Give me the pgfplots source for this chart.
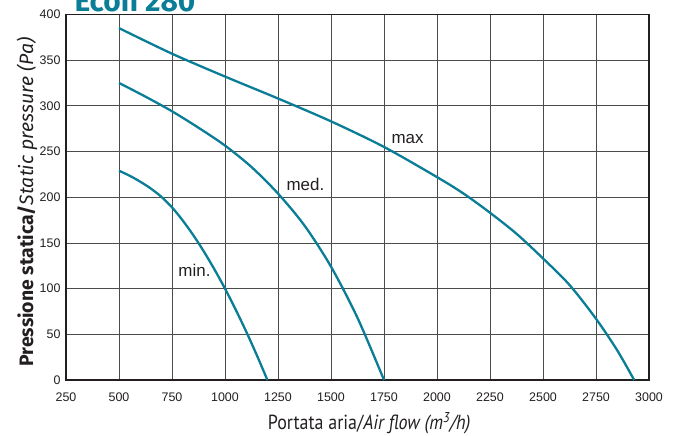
\documentclass[border=0pt]{standalone}
\usepackage{fontspec}
\setmainfont{Liberation Sans}
\newfontfamily\labfont[FakeStretch=0.88]{PT Sans}
\newfontfamily\titfont{Fira Sans}
\usepackage{pgfplots}
\pgfplotsset{compat=1.18}
\definecolor{curve}{HTML}{0A7D97}
\definecolor{ink}{HTML}{231F20}
\begin{document}
\begin{tikzpicture}
\begin{axis}[name=ax, scale only axis, width=583bp, height=365.6bp,
 xmin=250,xmax=3000,ymin=0,ymax=400,
 xtick={250,500,...,3000}, ytick={0,50,...,400},
 grid=major, major grid style={draw=black!70, line width=0.7bp},
 major tick length=0pt,
 axis line style={draw=ink, line width=1.6bp},
 tick label style={font=\fontsize{12.5}{13}\selectfont, text=ink},
 /pgf/number format/assume math mode=true,
 /pgf/number format/1000 sep={},
 xticklabel style={yshift=-9bp},
 yticklabel style={xshift=-2bp},
 xlabel={Portata aria/\itshape Air flow (m\textsuperscript{3}/h)},
 ylabel={\bfseries Pressione statica/\mdseries\itshape Static pressure (Pa)},
 xlabel style={font=\labfont\fontsize{20.5}{21}\selectfont, text=ink, at={(axis description cs:0.52,-0.1176)}, anchor=center},
 ylabel style={font=\titfont\fontsize{19.5}{20}\selectfont, text=ink, at={(axis description cs:-0.0669,0.487)}, anchor=center},
]
\addplot[curve, line width=2.3bp, smooth] coordinates {(500,385) (750,357) (1000,332) (1250,308) (1500,283) (1750,255) (2000,222) (2125,204) (2250,183) (2375,160) (2500,133) (2625,104) (2750,67) (2850,32.5) (2930,0)};
\addplot[curve, line width=2.3bp, smooth] coordinates {(500,325) (625,310) (750,294) (875,276) (1000,256.5) (1125,233) (1250,204) (1375,169) (1500,124) (1625,68) (1750,0)};
\addplot[curve, line width=2.3bp, smooth] coordinates {(500,229) (550,223.5) (600,217) (650,209.5) (700,200.4) (750,188.9) (800,174.7) (850,158.6) (900,140.7) (950,121.1) (1000,100) (1050,77.2) (1100,53) (1150,27.2) (1200,0)};
\node[anchor=base west, font=\fontsize{17}{18}\selectfont, text=ink] at (axis cs:1769,259) {max};
\node[anchor=base west, font=\fontsize{17}{18}\selectfont, text=ink] at (axis cs:1274,207) {med.};
\node[anchor=base west, font=\fontsize{17}{18}\selectfont, text=ink] at (axis cs:764,113) {min.};
\end{axis}
\node[anchor=base west, text=curve, font=\titfont\bfseries\fontsize{30}{32}\selectfont, xshift=5bp, yshift=2.4bp] at (ax.north west) {Econ 280};
\pgfresetboundingbox
\path[use as bounding box] (ax.south west) ++(-66bp,-56bp) rectangle ++(683bp,436bp);
\end{tikzpicture}
\end{document}
